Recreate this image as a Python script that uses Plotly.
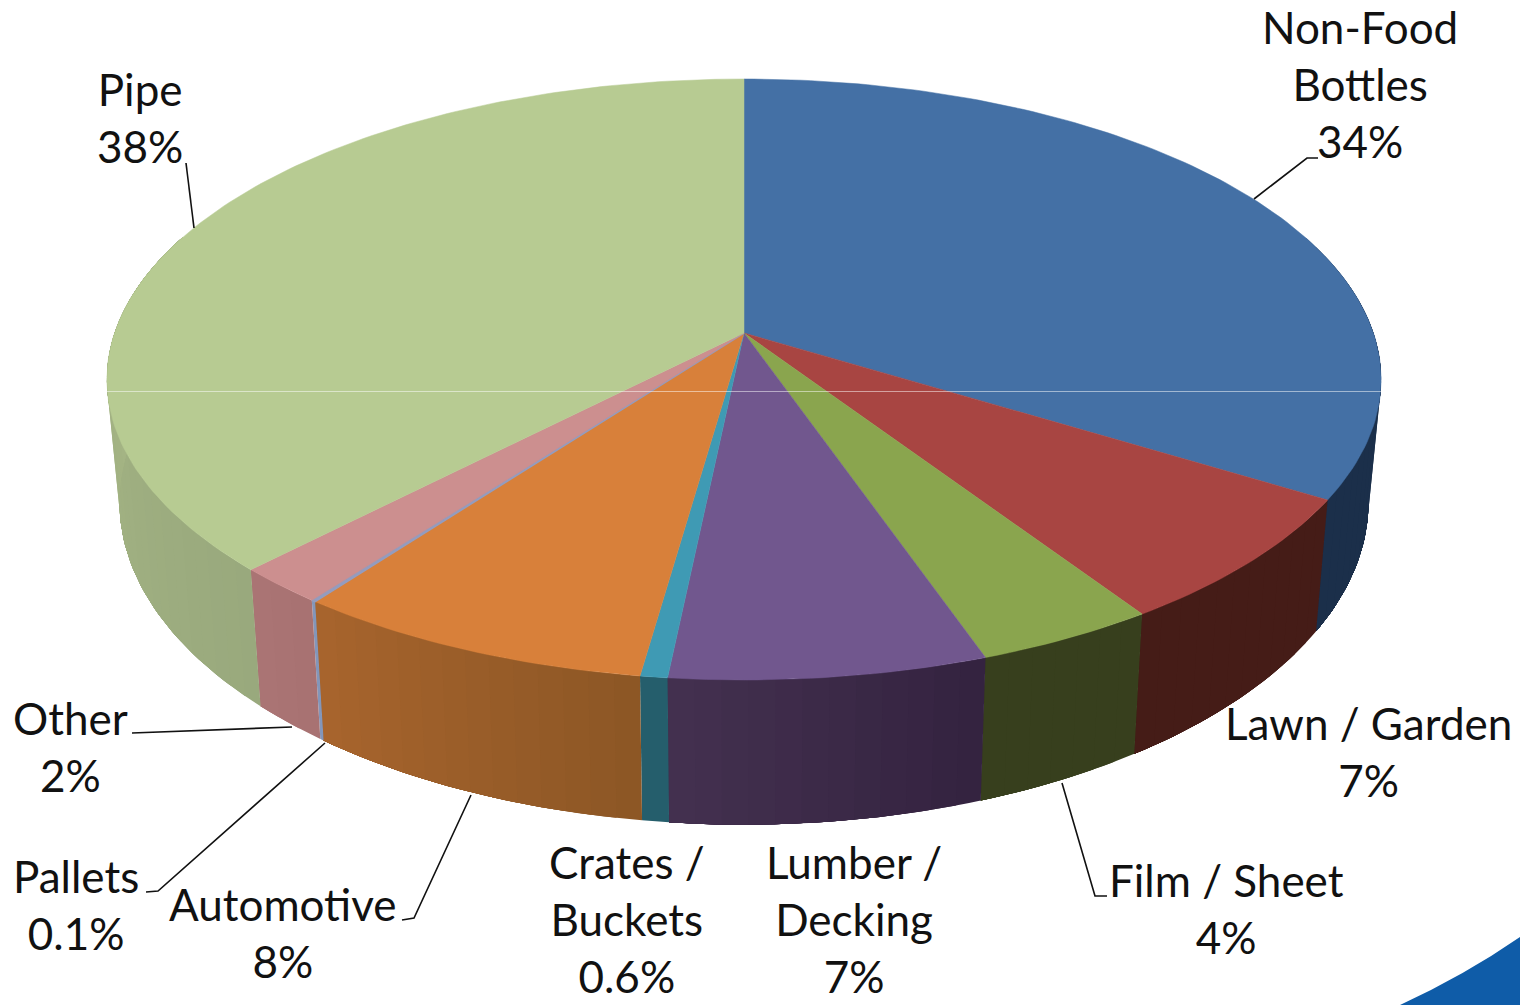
import math
import plotly.graph_objects as go

# ---- data ----
categories = ["Non-Food Bottles", "Lawn / Garden", "Film / Sheet", "Lumber / Decking",
              "Crates / Buckets", "Automotive", "Pallets", "Other", "Pipe"]
values = [34, 7, 4, 7, 0.6, 8, 0.1, 2, 38]
value_labels = ["34%", "7%", "4%", "7%", "0.6%", "8%", "0.1%", "2%", "38%"]

# ---- styles ----
top_colors = ["#4470a5", "#a84542", "#8aa54e", "#71578e", "#3f9ab4", "#d8803a", "#949cbe", "#cc8f8f", "#b7cb92"]
side_start = ["#1b2f4a", "#451c17", "#373f1d", "#33223f", "#255e6c", "#8c5625", "#8396ba", "#a87272", "#99a97d"]
side_end = ["#1b2f4a", "#451c17", "#373f1d", "#443150", "#255e6c", "#a8652d", "#8396ba", "#aa7474", "#a9b987"]

label_text = ["Non-Food<br>Bottles<br>34%", "Lawn / Garden<br>7%", "Film / Sheet<br>4%",
              "Lumber /<br>Decking<br>7%", "Crates /<br>Buckets<br>0.6%", "Automotive<br>8%",
              "Pallets<br>0.1%", "Other<br>2%", "Pipe<br>38%"]
label_x = [1360, 1368, 1226, 854, 627, 283, 76, 70, 140]
label_y = [84, 751, 908, 919, 919, 932, 904, 746, 117]

leaders = [
    ([1254, 1307, 1318], [199, 158, 158]),
    ([186, 194], [163, 228]),
    ([132, 292], [733, 727]),
    ([146, 158, 325], [892, 891, 743]),
    ([402, 414, 471], [920, 918, 795]),
    ([1062, 1095, 1107], [783, 896, 896]),
]

# ---- projection of the tilted disc ----
CX, CY_TOP, CY_BOT = 744, 333, 452
A_TOP, A_BOT, B_TOP, B_BOT = 629.4, 617.0, 293.3, 315.0
K = 0.1547


def project(theta, top=True, radius=1.0):
    u, v = radius * math.sin(theta), radius * math.cos(theta)
    w = 1 + K * v
    if top:
        return CX + A_TOP * u / w, CY_TOP - B_TOP * v / w
    return CX + A_BOT * u / w, CY_BOT - B_BOT * v / w


def hex_mix(a, b, t):
    ca = [int(a[i:i + 2], 16) for i in (1, 3, 5)]
    cb = [int(b[i:i + 2], 16) for i in (1, 3, 5)]
    return "rgb(%d,%d,%d)" % tuple(round(x + (y - x) * t) for x, y in zip(ca, cb))


total = sum(values)
edges = [0.0]
for val in values:
    edges.append(edges[-1] + val / total * 2 * math.pi)

fig = go.Figure()

# side walls, only the part facing the viewer; each band runs on to the end of its
# slice, so the next band overlaps it and no seams show between bands
vis_a, vis_b = math.radians(70), math.radians(290)
for i, cat in enumerate(categories):
    a, b = max(edges[i], vis_a), min(edges[i + 1], vis_b)
    if b <= a:
        continue
    n = max(1, int((b - a) / math.radians(2)))
    for j in range(n):
        t0 = a + (b - a) * j / n
        m = max(2, int((b - t0) / math.radians(1)))
        steps = [t0 + (b - t0) * s / m for s in range(m + 1)]
        pts = [project(t, True) for t in steps] + [project(t, False) for t in reversed(steps)]
        col = hex_mix(side_start[i], side_end[i], (j + 0.5) / n)
        fig.add_trace(go.Scatter(
            x=[p[0] for p in pts] + [pts[0][0]], y=[p[1] for p in pts] + [pts[0][1]],
            mode="lines", fill="toself", fillcolor=col, line=dict(width=0),
            hoverinfo="skip", showlegend=False))

# top face
for i, cat in enumerate(categories):
    a, b = edges[i], edges[i + 1]
    n = max(2, int((b - a) / math.radians(1)))
    pts = [project(0.0, True, 0.0)] + [project(a + (b - a) * s / n) for s in range(n + 1)]
    fig.add_trace(go.Scatter(
        x=[p[0] for p in pts] + [pts[0][0]], y=[p[1] for p in pts] + [pts[0][1]],
        mode="lines", fill="toself", fillcolor=top_colors[i],
        line=dict(color=top_colors[i], width=1.5 if values[i] < 0.5 else 0.5),
        name=cat, hoverinfo="skip", showlegend=False))

# thin seam across the top face
fig.add_trace(go.Scatter(x=[107, 1382], y=[391.5, 391.5], mode="lines",
                         line=dict(color="rgba(255,255,255,0.5)", width=1),
                         hoverinfo="skip", showlegend=False))

for lx, ly in leaders:
    fig.add_trace(go.Scatter(x=lx, y=ly, mode="lines", line=dict(color="#111111", width=1.6),
                             hoverinfo="skip", showlegend=False))

for txt, x, y in zip(label_text, label_x, label_y):
    fig.add_annotation(x=x, y=y, text=txt, showarrow=False, xanchor="center", yanchor="middle",
                       align="center", font=dict(family="Lato", size=44, color="#111111"))

fig.update_layout(
    width=1520, height=1005, autosize=False,
    margin=dict(l=0, r=0, t=0, b=0),
    paper_bgcolor="white", plot_bgcolor="white",
    showlegend=False,
    xaxis=dict(range=[0, 1520], visible=False, fixedrange=True),
    yaxis=dict(range=[1005, 0], visible=False, fixedrange=True),
    shapes=[dict(type="path", xref="x", yref="y", layer="below",
                 path="M 1400 1005 Q 1465 975 1520 937 L 1520 1005 Z",
                 fillcolor="#0f5ca8", line=dict(width=0))],
)

fig.write_html("out.html", config=dict(displayModeBar=False),
               post_script="document.body.style.margin='0';document.documentElement.style.overflow='hidden';")
